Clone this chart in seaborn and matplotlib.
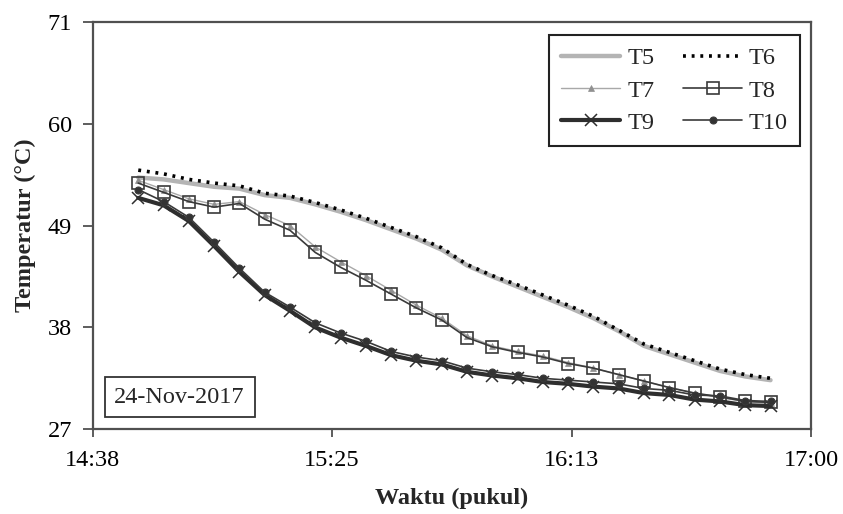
import numpy as np
import pandas as pd
import matplotlib
matplotlib.use("Agg")
import matplotlib.pyplot as plt
import matplotlib.dates as mdates
import seaborn as sns

# waktu pengukuran (tiap 5 menit)
times = ["14:47", "14:52", "14:57", "15:02", "15:07", "15:12", "15:17", "15:22", "15:27",
         "15:32", "15:37", "15:42", "15:47", "15:52", "15:57", "16:02", "16:07", "16:12",
         "16:17", "16:22", "16:27", "16:32", "16:37", "16:42", "16:47", "16:52"]

T5 = [54.2, 54.0, 53.6, 53.2, 53.0, 52.3, 52.0, 51.3, 50.5, 49.6, 48.6, 47.6, 46.4,
      44.7, 43.5, 42.4, 41.3, 40.2, 39.0, 37.6, 36.0, 35.1, 34.2, 33.3, 32.7, 32.3]
T6 = [55.0, 54.6, 54.0, 53.6, 53.3, 52.5, 52.2, 51.5, 50.7, 49.8, 48.8, 47.8, 46.6,
      44.8, 43.6, 42.6, 41.5, 40.4, 39.2, 37.7, 36.2, 35.3, 34.4, 33.5, 32.9, 32.5]
T7 = [53.9, 52.9, 51.9, 51.3, 51.6, 50.2, 49.0, 46.7, 45.1, 43.6, 42.0, 40.4, 39.0,
      37.1, 36.0, 35.4, 34.9, 34.2, 33.6, 32.9, 32.2, 31.5, 30.9, 30.4, 30.0, 29.8]
T8 = [53.6, 52.6, 51.6, 51.0, 51.4, 49.7, 48.5, 46.1, 44.5, 43.1, 41.6, 40.1, 38.8,
      36.9, 35.9, 35.3, 34.8, 34.1, 33.6, 32.9, 32.2, 31.5, 30.9, 30.5, 30.0, 29.9]
T9 = [52.0, 51.2, 49.5, 46.8, 44.0, 41.5, 39.8, 38.0, 36.9, 36.0, 35.0, 34.4, 34.0,
      33.2, 32.8, 32.5, 32.1, 31.9, 31.6, 31.4, 30.9, 30.7, 30.2, 30.0, 29.6, 29.5]
T10 = [52.9, 51.6, 49.9, 47.2, 44.4, 41.8, 40.2, 38.5, 37.4, 36.5, 35.4, 34.8, 34.4,
       33.6, 33.2, 32.9, 32.5, 32.3, 32.1, 31.9, 31.4, 31.2, 30.7, 30.6, 30.1, 30.0]

tanggal = "2017-11-24"
x_tick_labels = ["14:38", "15:25", "16:13", "17:00"]
y_ticks = [27, 38, 49, 60, 71]

sns.set_style("ticks")
plt.rcParams['font.family'] = ['Liberation Serif', 'DejaVu Serif']

df = pd.DataFrame({'waktu': pd.to_datetime([tanggal + " " + t for t in times]),
                   'T5': T5, 'T6': T6, 'T7': T7, 'T8': T8, 'T9': T9, 'T10': T10})

fig, ax = plt.subplots(figsize=(8.43, 5.14), dpi=100)
fig.subplots_adjust(left=0.110, right=0.962, top=0.957, bottom=0.165)

dark = '#3a3a3a'
styles = {
    'T5': dict(color='#b4b4b4', linewidth=3.2),
    'T6': dict(color='black', linewidth=2.6, linestyle=(0, (0.8, 1.6))),
    'T7': dict(color='#a8a8a8', linewidth=1.0, marker='^', markersize=5,
               markerfacecolor='#909090', markeredgecolor='#909090', markeredgewidth=0.5),
    'T8': dict(color=dark, linewidth=1.2, marker='s', markersize=9,
               markerfacecolor='none', markeredgecolor=dark, markeredgewidth=1.2),
    'T9': dict(color='#2e2e2e', linewidth=3.0, marker='x', markersize=8,
               markeredgecolor='#2e2e2e', markeredgewidth=1.1),
    'T10': dict(color=dark, linewidth=1.2, marker='o', markersize=5,
                markerfacecolor='#333333', markeredgecolor=dark, markeredgewidth=0.8),
}

for name in ['T5', 'T6', 'T7', 'T8', 'T9', 'T10']:
    sns.lineplot(data=df, x='waktu', y=name, ax=ax, label=name, **styles[name])

# sumbu x
lo = pd.Timestamp(tanggal + " " + x_tick_labels[0])
hi = pd.Timestamp(tanggal + " " + x_tick_labels[-1])
lo_n, hi_n = mdates.date2num(lo), mdates.date2num(hi)
ax.set_xlim(lo_n, hi_n)
ax.set_xticks(np.linspace(lo_n, hi_n, len(x_tick_labels)))
ax.set_xticklabels(x_tick_labels)

ax.set_ylim(y_ticks[0], y_ticks[-1])
ax.set_yticks(y_ticks)

for sp in ax.spines.values():
    sp.set_visible(True)
    sp.set_color('#505050')
    sp.set_linewidth(1.6)
ax.tick_params(axis='both', labelsize=17.5, colors='#505050', labelcolor='black',
               width=1.3, direction='out')
ax.tick_params(axis='y', length=7, pad=8)
ax.tick_params(axis='x', length=6, pad=9)

ax.set_xlabel('Waktu (pukul)', fontsize=17.5, fontweight='bold', labelpad=12)
ax.set_ylabel('Temperatur (°C)', fontsize=17.5, fontweight='bold', labelpad=8)

handles, labels = ax.get_legend_handles_labels()
order = [0, 2, 4, 1, 3, 5]
leg = ax.legend([handles[i] for i in order], [labels[i] for i in order],
                ncol=2, loc='upper right', bbox_to_anchor=(0.985, 0.968),
                borderaxespad=0, fontsize=17.5, frameon=True, fancybox=False,
                framealpha=1, edgecolor='#222222', handlelength=2.4,
                columnspacing=1.2, handletextpad=0.3, labelspacing=0.42,
                borderpad=0.5)
leg.get_frame().set_linewidth(1.5)

ax.text(0.121, 0.079, '24-Nov-2017', transform=ax.transAxes, fontsize=17.5,
        ha='center', va='center',
        bbox=dict(boxstyle='square,pad=0.4', fc='white', ec='#333333', lw=1.3))

plt.savefig('out.png', dpi=100)
